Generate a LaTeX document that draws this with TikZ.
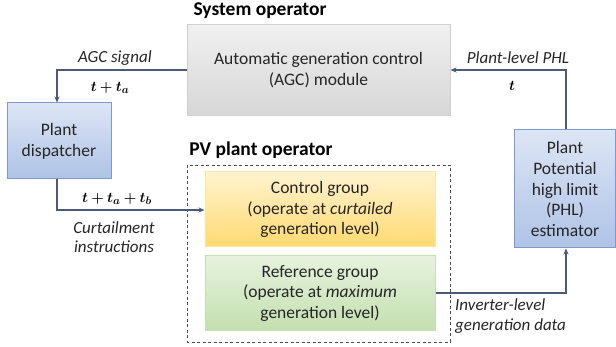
\documentclass[tikz,border=0pt]{standalone}
\usepackage{fontspec}
\setmainfont{Carlito}
\usepackage{bm}
\usetikzlibrary{arrows.meta}
\definecolor{arr}{HTML}{4A5A78}
\definecolor{bluetop}{HTML}{DCE5F4}
\definecolor{bluebot}{HTML}{AFC3E6}
\definecolor{blueedge}{HTML}{7E9ACB}
\definecolor{graytop}{HTML}{F0F0F0}
\definecolor{graybot}{HTML}{D6D6D6}
\definecolor{grayedge}{HTML}{D0D0D0}
\definecolor{yeltop}{HTML}{FFF3D0}
\definecolor{yelbot}{HTML}{FFDA70}
\definecolor{yeledge}{HTML}{FFE6A0}
\definecolor{grntop}{HTML}{E6F2DE}
\definecolor{grnbot}{HTML}{C3DFAF}
\definecolor{grnedge}{HTML}{C6E0B5}
\tikzset{
  box/.style={rectangle, align=center, font=\fontsize{17.5}{20.8}\selectfont, text=black!85, inner sep=0pt},
  bluebox/.style={box, draw=blueedge, line width=1pt, top color=bluetop, bottom color=bluebot},
  graybox/.style={box, draw=grayedge, line width=1pt, top color=graytop, bottom color=graybot},
  yelbox/.style={box, draw=yeledge, line width=1pt, top color=yeltop, bottom color=yelbot},
  grnbox/.style={box, draw=grnedge, line width=1pt, top color=grntop, bottom color=grnbot},
  conn/.style={draw=arr, line width=1.5pt, -{Stealth[length=6pt,width=5pt]}},
  title/.style={font=\fontsize{19.5}{22}\selectfont\bfseries},
  lab/.style={font=\fontsize{17}{19.5}\selectfont\itshape, text=black!85, align=center, inner sep=0pt},
  mlab/.style={font=\fontsize{15}{18}\selectfont, inner sep=0pt},
}
\begin{document}
\begin{tikzpicture}[x=1pt,y=-1pt]
\useasboundingbox (0,0) rectangle (616,347);
% titles
\node[title] (sysop) at (260,11) {System operator};
\node[title] (pvop) at (261,150) {PV plant operator};
% boxes
\node[graybox, minimum width=263pt, minimum height=91pt] (agc) at (318.5,70.5)
  {Automatic generation control\\(AGC) module};
\node[bluebox, minimum width=104pt, minimum height=76pt] (disp) at (59,141)
  {Plant\\dispatcher};
\node[bluebox, minimum width=101pt, minimum height=118pt] (phl) at (565,189)
  {Plant\\Potential\\high limit\\(PHL)\\estimator};
\draw[draw=black!70, line width=0.9pt, dash pattern=on 3pt off 2.5pt] (187,165) rectangle (450,342);
\node[yelbox, minimum width=230pt, minimum height=75pt] (ctrl) at (320,209.5)
  {Control group\\(operate at \textit{curtailed}\\generation level)};
\node[grnbox, minimum width=230pt, minimum height=75pt] (ref) at (320,293.5)
  {Reference group\\(operate at \textit{maximum}\\generation level)};
% connectors
\coordinate (c1) at (57,70);
\coordinate (c2) at (57,210);
\coordinate (c3) at (566,70);
\coordinate (c4) at (566,293);
\draw[conn] (agc.west |- c1) -- (c1) -- (c1 |- disp.north);
\draw[conn] (c1 |- disp.south) -- (c2) -- (c2 -| ctrl.west);
\draw[conn] (c3 |- phl.north) -- (c3) -- (c3 -| agc.east);
\draw[conn] (c4 -| ref.east) -- (c4) -- (c4 |- phl.south);
% labels
\node[lab] (agcsig) at (115,58) {AGC signal};
\node[mlab] (t1) at (110,88) {$\bm{t+t_a}$};
\node[lab] (plphl) at (518,58) {Plant-level PHL};
\node[mlab] (t2) at (512,86) {$\bm{t}$};
\node[mlab] (t3) at (117,199) {$\bm{t+t_a+t_b}$};
\node[lab] (curt) at (114,237) {Curtailment\\instructions};
\node[lab, align=left, anchor=west] (inv) at (455,316) {Inverter-level\\generation data};
\end{tikzpicture}
\end{document}
